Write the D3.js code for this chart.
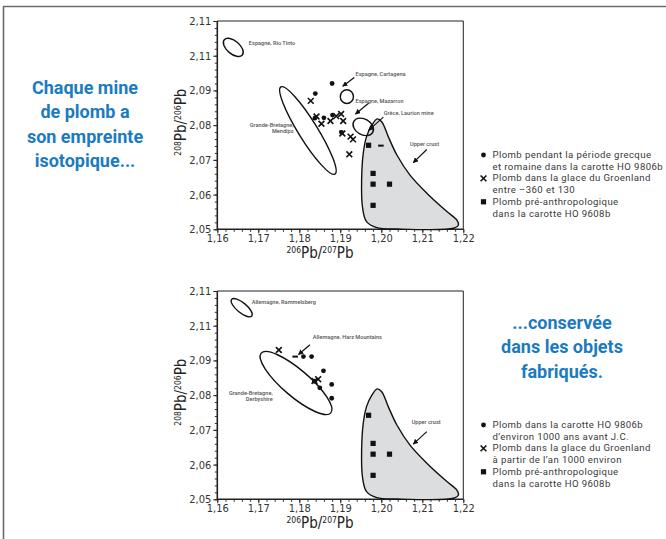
<!DOCTYPE html>
<html>
<head>
<meta charset="utf-8">
<script src="https://cdn.jsdelivr.net/npm/d3@7"></script>
<style>
  body { margin: 0; background: #fff; }
  svg { display: block; }
  .tick text { font-family: "Liberation Sans Narrow", "DejaVu Sans Condensed", sans-serif; font-size: 11px; fill: #333; }
  .note { font-family: Roboto, sans-serif; font-size: 5.6px; fill: #555; font-weight: 500; }
  .legend { font-family: Roboto, sans-serif; font-size: 9.6px; letter-spacing: 0.4px; fill: #3a3a3a; }
  .headline { font-family: Roboto, sans-serif; font-size: 18px; font-weight: 700; fill: #1b7bc0; }
  .axis-title { font-family: "Liberation Sans Narrow", "DejaVu Sans Condensed", sans-serif; fill: #222; }
</style>
</head>
<body>
<script>
// axis ticks
const xTicks = [1.16, 1.17, 1.18, 1.19, 1.20, 1.21, 1.22];
const xTickLabels = ['1,16', '1,17', '1,18', '1,19', '1,20', '1,21', '1,22'];
const yTicks = [2.05, 2.06, 2.07, 2.08, 2.09, 2.10, 2.11];
const yTickLabels = ['2,05', '2,06', '2,07', '2,08', '2,09', '2,11', '2,11'];

// upper panel series [206Pb/207Pb, 208Pb/206Pb]
const topDots = [[1.1839, 2.0891], [1.1880, 2.0920], [1.1838, 2.0820], [1.1860, 2.0821],
    [1.1881, 2.0829], [1.1903, 2.0779]];
const topCrosses = [[1.1828, 2.0870], [1.1842, 2.0825], [1.1854, 2.0804], [1.1876, 2.0812],
    [1.1890, 2.0826], [1.1902, 2.0832], [1.1907, 2.0812], [1.1905, 2.0776],
    [1.1925, 2.0767], [1.1931, 2.0759], [1.1922, 2.0716]];
const topDashes = [[1.1999, 2.0741]];

// lower panel series
const bottomDots = [[1.1810, 2.0911], [1.1830, 2.0911], [1.1859, 2.0870], [1.1837, 2.0840],
    [1.1850, 2.0821], [1.1879, 2.0831], [1.1879, 2.0791]];
const bottomCrosses = [[1.1750, 2.0930], [1.1837, 2.0841], [1.1846, 2.0846]];
const bottomDashes = [[1.1790, 2.0911]];

// pre-anthropogenic lead, same in both panels
const preSquares = [[1.1969, 2.0742], [1.1980, 2.0661], [1.1980, 2.0630], [1.2020, 2.0630], [1.1980, 2.0569]];

// mine fields: major axis end points and minor/major ratio
const topEllipses = [
    { p1: [1.1617, 2.1046], p2: [1.1661, 2.1002], ratio: 0.55 },  // Rio Tinto
    { p1: [1.1755, 2.0910], p2: [1.1887, 2.0659], ratio: 0.185 }, // Mendips
    { p1: [1.1900, 2.0882], p2: [1.1932, 2.0882], ratio: 1.05 },  // Cartagena
    { p1: [1.1933, 2.0811], p2: [1.1979, 2.0779], ratio: 0.72 }   // Mazarron
];
const bottomEllipses = [
    { p1: [1.1635, 2.1076], p2: [1.1684, 2.1028], ratio: 0.38 },  // Rammelsberg
    { p1: [1.1707, 2.0921], p2: [1.1877, 2.0749], ratio: 0.29 }   // Derbyshire
];

// upper crust field outline
const upperCrust = [[1.1990, 2.0818], [1.2001, 2.0810], [1.2017, 2.0767], [1.2038, 2.0714],
    [1.2070, 2.0656], [1.2111, 2.0604], [1.2160, 2.0551], [1.2184, 2.0527], [1.2188, 2.0512],
    [1.2176, 2.0503], [1.2038, 2.0501], [1.1989, 2.0505], [1.1964, 2.0522], [1.1954, 2.0565],
    [1.1952, 2.0642], [1.1956, 2.0719], [1.1964, 2.0767], [1.1977, 2.0800]];

// labels in data coordinates, arrows from -> to
const topNotes = [
    { lines: ['Espagne, Rio Tinto'], at: [1.1677, 2.1030], anchor: 'start' },
    { lines: ['Espagne, Cartagena'], at: [1.1937, 2.0941], anchor: 'start', from: [1.1934, 2.0937], to: [1.1906, 2.0912] },
    { lines: ['Espagne, Mazarron'], at: [1.1937, 2.0864], anchor: 'start', from: [1.1969, 2.0863], to: [1.1937, 2.0832] },
    { lines: ['Grèce, Laurion mine'], at: [1.2006, 2.0829], anchor: 'start', from: [1.2005, 2.0823], to: [1.1969, 2.0785] },
    { lines: ['Grande-Bretagne,', 'Mendips'], at: [1.1786, 2.0795], anchor: 'end' },
    { lines: ['Upper crust'], at: [1.2070, 2.0740], anchor: 'start', from: [1.2111, 2.0730], to: [1.2078, 2.0692] }
];
const bottomNotes = [
    { lines: ['Allemagne, Rammelsberg'], at: [1.1684, 2.1063], anchor: 'start' },
    { lines: ['Allemagne, Harz Mountains'], at: [1.1833, 2.0963], anchor: 'start', from: [1.1826, 2.0945], to: [1.1798, 2.0917] },
    { lines: ['Grande-Bretagne,', 'Derbyshire'], at: [1.1735, 2.0800], anchor: 'end' },
    { lines: ['Upper crust'], at: [1.2074, 2.0717], anchor: 'start', from: [1.2111, 2.0695], to: [1.2078, 2.0659] }
];

const topLegend = [
    { symbol: 'dot', lines: ['Plomb pendant la période grecque', 'et romaine dans la carotte HO 9806b'] },
    { symbol: 'cross', lines: ['Plomb dans la glace du Groenland', 'entre \u2013360 et 130'] },
    { symbol: 'square', lines: ['Plomb pré-anthropologique', 'dans la carotte HO 9608b'] }
];
const bottomLegend = [
    { symbol: 'dot', lines: ['Plomb dans la carotte HO 9806b', 'd\u2019environ 1000 ans avant J.C.'] },
    { symbol: 'cross', lines: ['Plomb dans la glace du Groenland', 'à partir de l\u2019an 1000 environ'] },
    { symbol: 'square', lines: ['Plomb pré-anthropologique', 'dans la carotte HO 9608b'] }
];

const leftHeadline = ['Chaque mine', 'de plomb a', 'son empreinte', 'isotopique...'];
const rightHeadline = ['...conservée', 'dans les objets', 'fabriqués.'];

const W = 666, H = 539;
const svg = d3.select('body').append('svg').attr('width', W).attr('height', H);

svg.append('defs').append('marker')
    .attr('id', 'arrow')
    .attr('viewBox', '0 0 10 10')
    .attr('refX', 9).attr('refY', 5)
    .attr('markerWidth', 4.5).attr('markerHeight', 4.5)
    .attr('orient', 'auto')
    .append('path').attr('d', 'M0,0 L10,5 L0,10 z').attr('fill', '#111');

// page frame (top and left)
svg.append('path')
    .attr('d', `M3.5,${H} L3.5,6.5 L${W},6.5`)
    .attr('fill', 'none').attr('stroke', '#6b6b6b').attr('stroke-width', 1.6);

const x = d3.scaleLinear().domain([1.16, 1.22]).range([217.3, 463.3]);

function drawSymbol(g, kind, cx, cy) {
    if (kind === 'dot') {
        g.append('circle').attr('cx', cx).attr('cy', cy).attr('r', 2.4).attr('fill', '#111');
    } else if (kind === 'cross') {
        const s = 2.9;
        g.append('path')
            .attr('d', `M${cx - s},${cy - s}L${cx + s},${cy + s}M${cx - s},${cy + s}L${cx + s},${cy - s}`)
            .attr('stroke', '#111').attr('stroke-width', 1.6).attr('fill', 'none');
    } else if (kind === 'square') {
        g.append('rect').attr('x', cx - 2.6).attr('y', cy - 2.6).attr('width', 5.2).attr('height', 5.2).attr('fill', '#111');
    } else if (kind === 'dash') {
        g.append('rect').attr('x', cx - 2.8).attr('y', cy - 1).attr('width', 5.6).attr('height', 2).attr('fill', '#111');
    }
}

// superscript-mass isotope ratio title, e.g. 206Pb/207Pb
function ratioTitle(t, a, b) {
    t.append('tspan').attr('font-size', 8.5).attr('baseline-shift', '5.5').text(a);
    t.append('tspan').attr('font-size', 15).text('Pb/');
    t.append('tspan').attr('font-size', 8.5).attr('baseline-shift', '5.5').text(b);
    t.append('tspan').attr('font-size', 15).text('Pb');
}

function drawPanel(top, bottom, ellipses, dots, crosses, dashes, notes) {
    const y = d3.scaleLinear().domain([2.05, 2.11]).range([bottom, top]);
    const g = svg.append('g');

    // minor ticks
    g.append('g').attr('transform', `translate(0,${bottom})`)
        .call(d3.axisBottom(x).tickValues(d3.range(1.16, 1.2201, 0.002)).tickSize(2.5).tickFormat(''))
        .call(a => a.select('.domain').remove())
        .call(a => a.selectAll('line').attr('stroke', '#333'));
    g.append('g').attr('transform', `translate(${x(1.16)},0)`)
        .call(d3.axisLeft(y).tickValues(d3.range(2.05, 2.1101, 0.002)).tickSize(2.5).tickFormat(''))
        .call(a => a.select('.domain').remove())
        .call(a => a.selectAll('line').attr('stroke', '#333'));

    // major ticks
    g.append('g').attr('transform', `translate(0,${bottom})`)
        .call(d3.axisBottom(x).tickValues(xTicks).tickSize(4).tickPadding(1)
            .tickFormat((d, i) => xTickLabels[i]))
        .call(a => a.select('.domain').remove())
        .call(a => a.selectAll('line').attr('stroke', '#222'));
    g.append('g').attr('transform', `translate(${x(1.16)},0)`)
        .call(d3.axisLeft(y).tickValues(yTicks).tickSize(4).tickPadding(2)
            .tickFormat((d, i) => yTickLabels[i]))
        .call(a => a.select('.domain').remove())
        .call(a => a.selectAll('line').attr('stroke', '#222'));

    // plot box
    g.append('path')
        .attr('d', `M${x(1.16)},${y(2.11)}L${x(1.22)},${y(2.11)}L${x(1.22)},${y(2.05)}`)
        .attr('fill', 'none').attr('stroke', '#222').attr('stroke-width', 1);
    g.append('path')
        .attr('d', `M${x(1.16)},${y(2.11)}L${x(1.16)},${y(2.05)}L${x(1.22)},${y(2.05)}`)
        .attr('fill', 'none').attr('stroke', '#222').attr('stroke-width', 1.6);

    // upper crust field
    g.append('path').datum(upperCrust)
        .attr('d', d3.line().x(d => x(d[0])).y(d => y(d[1])).curve(d3.curveCatmullRomClosed.alpha(0.5)))
        .attr('fill', '#dcdddf').attr('stroke', '#111').attr('stroke-width', 1.4);

    // mine ellipses
    ellipses.forEach(e => {
        const x1 = x(e.p1[0]), y1 = y(e.p1[1]), x2 = x(e.p2[0]), y2 = y(e.p2[1]);
        const cx = (x1 + x2) / 2, cy = (y1 + y2) / 2;
        const a = Math.hypot(x2 - x1, y2 - y1) / 2;
        const ang = Math.atan2(y2 - y1, x2 - x1) * 180 / Math.PI;
        g.append('ellipse')
            .attr('cx', cx).attr('cy', cy).attr('rx', a).attr('ry', a * e.ratio)
            .attr('transform', `rotate(${ang},${cx},${cy})`)
            .attr('fill', 'none').attr('stroke', '#111').attr('stroke-width', 1.4);
    });

    // notes and arrows
    notes.forEach(n => {
        const t = g.append('text').attr('class', 'note')
            .attr('x', x(n.at[0])).attr('y', y(n.at[1]))
            .attr('text-anchor', n.anchor);
        n.lines.forEach((l, i) => {
            t.append('tspan').attr('x', x(n.at[0])).attr('dy', i === 0 ? 0 : 6).text(l);
        });
        if (n.from) {
            g.append('line')
                .attr('x1', x(n.from[0])).attr('y1', y(n.from[1]))
                .attr('x2', x(n.to[0])).attr('y2', y(n.to[1]))
                .attr('stroke', '#111').attr('stroke-width', 1.2)
                .attr('marker-end', 'url(#arrow)');
        }
    });

    // samples
    preSquares.forEach(d => drawSymbol(g, 'square', x(d[0]), y(d[1])));
    dashes.forEach(d => drawSymbol(g, 'dash', x(d[0]), y(d[1])));
    dots.forEach(d => drawSymbol(g, 'dot', x(d[0]), y(d[1])));
    crosses.forEach(d => drawSymbol(g, 'cross', x(d[0]), y(d[1])));

    // axis titles
    const yt = g.append('text').attr('class', 'axis-title')
        .attr('transform', `translate(186,${(top + bottom) / 2 - 3}) rotate(-90)`)
        .attr('text-anchor', 'middle');
    ratioTitle(yt, '208', '206');

    const xt = g.append('text').attr('class', 'axis-title')
        .attr('x', 320).attr('y', bottom + 29)
        .attr('text-anchor', 'middle');
    ratioTitle(xt, '206', '207');
}

function drawLegend(items, x0, y0) {
    const g = svg.append('g');
    items.forEach((it, i) => {
        const cy = y0 + i * 23.4;
        drawSymbol(g, it.symbol, x0, cy - 3);
        const t = g.append('text').attr('class', 'legend').attr('x', x0 + 9).attr('y', cy);
        it.lines.forEach((l, j) => {
            t.append('tspan').attr('x', x0 + 9).attr('dy', j === 0 ? 0 : 12).text(l);
        });
    });
}

function drawHeadline(lines, cx, y0) {
    const t = svg.append('text').attr('class', 'headline').attr('text-anchor', 'middle');
    lines.forEach((l, i) => {
        t.append('tspan').attr('x', cx).attr('y', y0 + i * 24.5).text(l);
    });
}

drawPanel(21, 229.3, topEllipses, topDots, topCrosses, topDashes, topNotes);
drawPanel(291, 499.3, bottomEllipses, bottomDots, bottomCrosses, bottomDashes, bottomNotes);

drawLegend(topLegend, 483.5, 158);
drawLegend(bottomLegend, 483.5, 428);

drawHeadline(leftHeadline, 85, 93.5);
drawHeadline(rightHeadline, 562, 328.5);
</script>
</body>
</html>
